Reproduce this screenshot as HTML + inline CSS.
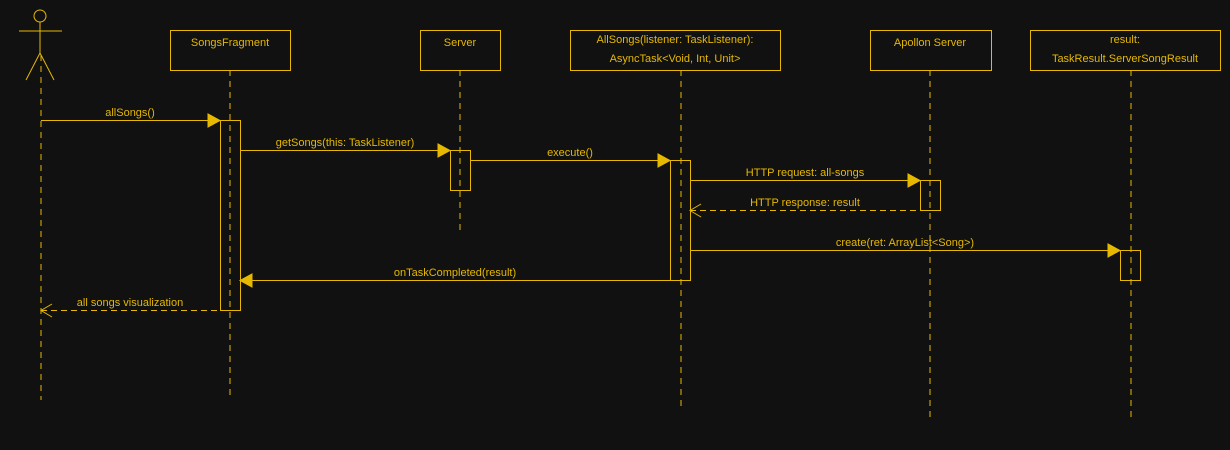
<!DOCTYPE html>
<html><head><style>html,body{margin:0;background:#111111;}svg{display:block}</style></head>
<body>
<svg width="1230" height="450" xmlns="http://www.w3.org/2000/svg" font-family="Liberation Sans, sans-serif" font-size="11" fill="none" stroke="#e6b800">
<rect x="0" y="0" width="1230" height="450" fill="#111111" stroke="none"/>
<!-- actor -->
<circle cx="40" cy="16" r="6"/>
<line x1="19" y1="31" x2="62" y2="31"/>
<line x1="40" y1="22" x2="40" y2="53"/>
<line x1="40" y1="53" x2="26" y2="80"/>
<line x1="40" y1="53" x2="54" y2="80"/>
<!-- lifelines -->
<g stroke-dasharray="6 5">
<line x1="41" y1="55" x2="41" y2="400"/>
<line x1="230" y1="70" x2="230" y2="400"/>
<line x1="460" y1="70" x2="460" y2="230"/>
<line x1="681" y1="70" x2="681" y2="410"/>
<line x1="930" y1="70" x2="930" y2="420"/>
<line x1="1131" y1="70" x2="1131" y2="420"/>
</g>
<!-- boxes -->
<rect x="170.5" y="30.5" width="120" height="40"/>
<rect x="420.5" y="30.5" width="80" height="40"/>
<rect x="570.5" y="30.5" width="210" height="40"/>
<rect x="870.5" y="30.5" width="121" height="40"/>
<rect x="1030.5" y="30.5" width="190" height="40"/>
<g fill="#e6b800" stroke="none" text-anchor="middle">
<text x="230" y="46">SongsFragment</text>
<text x="460" y="46">Server</text>
<text x="675" y="43">AllSongs(listener: TaskListener):</text>
<text x="675" y="62">AsyncTask&lt;Void, Int, Unit&gt;</text>
<text x="930" y="46">Apollon Server</text>
<text x="1125" y="43">result:</text>
<text x="1125" y="62">TaskResult.ServerSongResult</text>
</g>
<!-- activations -->
<rect x="220.5" y="120.5" width="20" height="190"/>
<rect x="450.5" y="150.5" width="20" height="40"/>
<rect x="670.5" y="160.5" width="20" height="120"/>
<rect x="920.5" y="180.5" width="20" height="30"/>
<rect x="1120.5" y="250.5" width="20" height="30"/>
<!-- messages -->
<g>
<line x1="41" y1="120.5" x2="208" y2="120.5"/>
<polygon points="208,114 220,120.5 208,127" fill="#e6b800"/>
<line x1="240" y1="150.5" x2="438" y2="150.5"/>
<polygon points="438,144 450,150.5 438,157" fill="#e6b800"/>
<line x1="470" y1="160.5" x2="658" y2="160.5"/>
<polygon points="658,154 670,160.5 658,167" fill="#e6b800"/>
<line x1="690" y1="180.5" x2="908" y2="180.5"/>
<polygon points="908,174 920,180.5 908,187" fill="#e6b800"/>
<line x1="690" y1="210.5" x2="920" y2="210.5" stroke-dasharray="6 4"/>
<polyline points="701,204 690,210.5 701,217"/>
<line x1="690" y1="250.5" x2="1108" y2="250.5"/>
<polygon points="1108,244 1120,250.5 1108,257" fill="#e6b800"/>
<line x1="252" y1="280.5" x2="670" y2="280.5"/>
<polygon points="252,274 240,280.5 252,287" fill="#e6b800"/>
<line x1="41" y1="310.5" x2="220" y2="310.5" stroke-dasharray="6 4"/>
<polyline points="52,304 41,310.5 52,317"/>
</g>
<g fill="#e6b800" stroke="none" text-anchor="middle">
<text x="130" y="116">allSongs()</text>
<text x="345" y="146">getSongs(this: TaskListener)</text>
<text x="570" y="156">execute()</text>
<text x="805" y="176">HTTP request: all-songs</text>
<text x="805" y="206">HTTP response: result</text>
<text x="905" y="246">create(ret: ArrayList&lt;Song&gt;)</text>
<text x="455" y="276">onTaskCompleted(result)</text>
<text x="130" y="306">all songs visualization</text>
</g>
</svg>
</body></html>
